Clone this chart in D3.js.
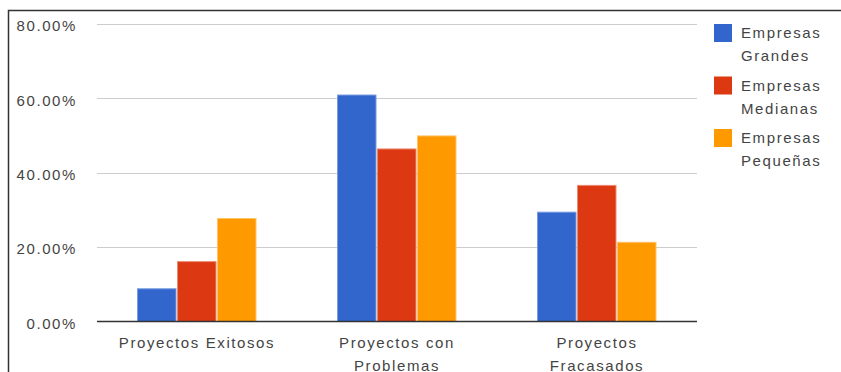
<!DOCTYPE html>
<html lang="es">
<head>
  <meta charset="utf-8" />
  <title>Proyectos por tamaño de empresa</title>
  <script src="https://cdn.jsdelivr.net/npm/d3@7"></script>
  <style>
    body { margin: 0; background: white; }
    text { font-family: "Liberation Sans", Arial, sans-serif; fill: #444; font-size: 15px; letter-spacing: 1.6px; }
  </style>
</head>
<body>
<script>
// data
var categories = [["Proyectos Exitosos"], ["Proyectos con", "Problemas"], ["Proyectos", "Fracasados"]];
var seriesNames = [["Empresas", "Grandes"], ["Empresas", "Medianas"], ["Empresas", "Pequeñas"]];
var grandes  = [8.8, 60.9, 29.4];
var medianas = [16.1, 46.4, 36.6];
var pequenas = [27.7, 49.9, 21.3];
var yTicks = [0, 20, 40, 60, 80];
var colors = ["#3366cc", "#dc3912", "#ff9900"];
var strokes = ["#7a9be0", "#ec8a70", "#ffc266"];

var w = 841, h = 372;
var pad = {left: 97, right: 144, top: 24, bottom: 51};
var series = [grandes, medianas, pequenas];

var svg = d3.select("body").append("svg")
  .attr("width", w)
  .attr("height", h);

var x0 = d3.scaleBand()
  .domain(d3.range(categories.length))
  .range([pad.left, w - pad.right])
  .paddingInner(0.4)
  .paddingOuter(0.2);
var x1 = d3.scaleBand()
  .domain(d3.range(series.length))
  .range([0, x0.bandwidth()]);
var y = d3.scaleLinear()
  .domain([0, 80])
  .range([h - pad.bottom + 0.5, pad.top]);

// gridlines
svg.append("g")
  .selectAll("line")
  .data(yTicks.slice(1))
  .enter().append("line")
  .attr("x1", pad.left).attr("x2", w - pad.right)
  .attr("y1", function(d) { return Math.round(y(d)) + 0.5; })
  .attr("y2", function(d) { return Math.round(y(d)) + 0.5; })
  .attr("stroke", "#cccccc");

// y labels
var yAxis = d3.axisLeft(y).tickValues(yTicks).tickSize(0).tickPadding(20)
  .tickFormat(function(d) { return d.toFixed(2) + "%"; });
var ga = svg.append("g").attr("transform", "translate(" + pad.left + ",2)").call(yAxis);
ga.select(".domain").remove();
ga.selectAll("text").attr("font-size", null).attr("font-family", null).style("fill", "#444");

// bars
var groups = svg.append("g").selectAll("g")
  .data(categories)
  .enter().append("g")
  .attr("transform", function(d, i) { return "translate(" + x0(i) + ",0)"; });
groups.selectAll("rect")
  .data(function(d, i) { return series.map(function(s, j) { return {s: j, v: s[i]}; }); })
  .enter().append("rect")
  .attr("x", function(d) { return x1(d.s) + 0.5; })
  .attr("width", x1.bandwidth() - 1.5)
  .attr("y", function(d) { return y(d.v); })
  .attr("height", function(d) { return y(0) - y(d.v); })
  .attr("fill", function(d) { return colors[d.s]; })
  .attr("stroke", function(d) { return strokes[d.s]; })
  .attr("stroke-width", 1);

// baseline
svg.append("line")
  .attr("x1", pad.left).attr("x2", w - pad.right)
  .attr("y1", y(0)).attr("y2", y(0))
  .attr("stroke", "#333").attr("stroke-width", 1.5);

// category labels
var cl = svg.append("g").selectAll("text")
  .data(categories)
  .enter().append("text")
  .attr("text-anchor", "middle")
  .attr("x", function(d, i) { return x0(i) + x0.bandwidth() / 2; })
  .attr("y", 348);
cl.selectAll("tspan")
  .data(function(d) { return d; })
  .enter().append("tspan")
  .attr("x", function() { return d3.select(this.parentNode).attr("x"); })
  .attr("dy", function(d, i) { return i ? 23 : 0; })
  .text(function(d) { return d; });

// legend
var lg = svg.append("g").selectAll("g")
  .data(seriesNames)
  .enter().append("g")
  .attr("transform", function(d, i) { return "translate(714," + (24 + i * 52.5) + ")"; });
lg.append("rect")
  .attr("width", 18).attr("height", 18)
  .attr("fill", function(d, i) { return colors[i]; });
lg.append("text")
  .attr("x", 27).attr("y", 14)
  .selectAll("tspan")
  .data(function(d) { return d; })
  .enter().append("tspan")
  .attr("x", 27)
  .attr("dy", function(d, i) { return i ? 23 : 0; })
  .text(function(d) { return d; });

// frame
svg.append("path")
  .attr("d", "M8.5," + h + "V10.5H" + w)
  .attr("fill", "none")
  .attr("stroke", "#333")
  .attr("stroke-width", 1.5);
</script>
</body>
</html>
